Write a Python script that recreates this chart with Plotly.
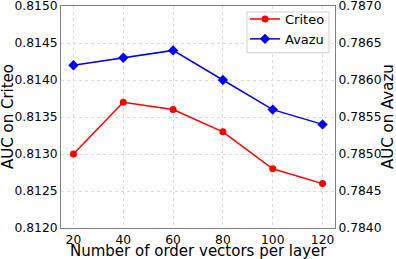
import plotly.graph_objects as go

x_vals = [20, 40, 60, 80, 100, 120]
criteo = [0.8130, 0.8137, 0.8136, 0.8133, 0.8128, 0.8126]
avazu = [0.7862, 0.7863, 0.7864, 0.7860, 0.7856, 0.7854]
left_ticks = [0.8120, 0.8125, 0.8130, 0.8135, 0.8140, 0.8145, 0.8150]
right_ticks = [0.7840, 0.7845, 0.7850, 0.7855, 0.7860, 0.7865, 0.7870]

font = "DejaVu Sans"
tick_size = 12.3
title_size = 15
eps = 1e-7

W, H = 396, 259
ML, MR, MT, MB = 61, 61, 5, 31
PW, PH = W - ML - MR, H - MT - MB


def px_x(p):
    return (p - ML) / PW


def px_y(p):
    return (H - MB - p) / PH


fig = go.Figure()
fig.add_trace(go.Scatter(x=x_vals, y=criteo, name="Criteo", mode="lines+markers",
                         line=dict(color="#ff0000", width=1.5),
                         marker=dict(symbol="circle", size=7, color="#ff0000"), yaxis="y"))
fig.add_trace(go.Scatter(x=x_vals, y=avazu, name="Avazu", mode="lines+markers",
                         line=dict(color="#0000ff", width=1.5),
                         marker=dict(symbol="diamond", size=8, color="#0000ff"), yaxis="y2"))

axis_common = dict(showline=True, linecolor="#808080", linewidth=1, ticks="",
                   tickfont=dict(family=font, size=tick_size, color="black"),
                   zeroline=False, automargin=False, ticklabeloverflow="allow")

fig.update_layout(
    width=W, height=H,
    margin=dict(l=ML, r=MR, t=MT, b=MB),
    paper_bgcolor="white", plot_bgcolor="white",
    font=dict(family=font, color="black"),
    xaxis=dict(range=[15, 125], tickvals=x_vals, ticktext=[str(v) for v in x_vals],
               showgrid=True, gridcolor="#dcdcdc", griddash="dot", gridwidth=1, mirror=True,
               ticklabelstandoff=0, **axis_common),
    yaxis=dict(range=[left_ticks[0] - eps, left_ticks[-1] + eps], tickvals=left_ticks,
               ticktext=[f"{v:.4f}" for v in left_ticks],
               showgrid=True, gridcolor="#dcdcdc", griddash="dot", gridwidth=1,
               ticklabelstandoff=0, **axis_common),
    yaxis2=dict(range=[right_ticks[0] - eps, right_ticks[-1] + eps], tickvals=right_ticks,
                ticktext=[f"{v:.4f}" for v in right_ticks],
                overlaying="y", side="right", showgrid=False,
                ticklabelstandoff=0, **axis_common),
    legend=dict(x=px_x(330), y=px_y(4), xanchor="right", yanchor="top", bgcolor="rgba(0,0,0,0)",
                borderwidth=0, font=dict(family=font, size=13),
                tracegroupgap=0, itemwidth=30),
    showlegend=True,
    shapes=[
        dict(type="rect", xref="paper", yref="paper", x0=px_x(247), x1=px_x(329),
             y0=px_y(52), y1=px_y(11), line=dict(color="#d0d0d0", width=1),
             fillcolor="rgba(255,255,255,0.8)", layer="above"),
    ],
    annotations=[
        dict(text="Number of order vectors per layer", xref="paper", yref="paper", x=0.5, y=0,
             yshift=-23, xanchor="center", yanchor="middle", showarrow=False,
             font=dict(family=font, size=title_size)),
        dict(text="AUC on Criteo", xref="paper", yref="paper", x=0, y=0.5, xshift=-53,
             textangle=-90, xanchor="center", yanchor="middle", showarrow=False,
             font=dict(family=font, size=title_size)),
        dict(text="AUC on Avazu", xref="paper", yref="paper", x=1, y=0.5, xshift=53,
             textangle=-90, xanchor="center", yanchor="middle", showarrow=False,
             font=dict(family=font, size=title_size)),
    ],
)

fig.write_html("out.html", config={"displayModeBar": False},
               post_script="document.body.style.margin='0px';document.body.style.padding='0px';")
